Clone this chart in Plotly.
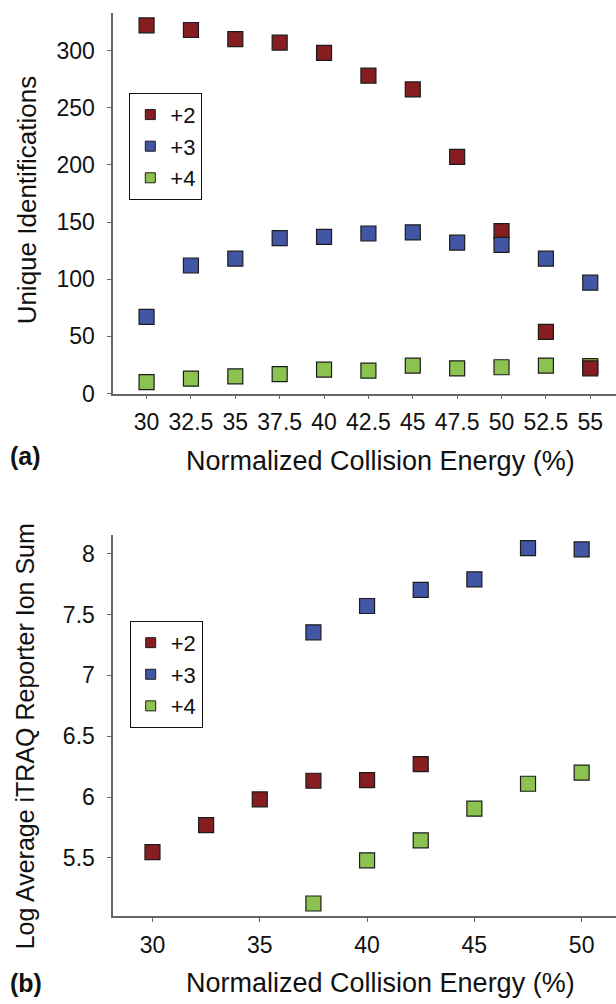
import plotly.graph_objects as go

W, H = 616, 1004

# ---- Panel (a) data ----
energy_a = [30, 32.5, 35, 37.5, 40, 42.5, 45, 47.5, 50, 52.5, 55]
ids_p2 = [322, 318, 310, 307, 298, 278, 266, 207, 142, 54, 22]
ids_p3 = [67, 112, 118, 136, 137, 140, 141, 132, 130, 118, 97]
ids_p4 = [10, 13, 15, 17, 21, 20, 24.5, 22, 23, 24.5, 24]
ticks_a_x = [30, 32.5, 35, 37.5, 40, 42.5, 45, 47.5, 50, 52.5, 55]
ticks_a_y = [0, 50, 100, 150, 200, 250, 300]

# ---- Panel (b) data ----
energy_b_p2 = [30, 32.5, 35, 37.5, 40, 42.5]
sum_p2 = [5.547, 5.769, 5.980, 6.134, 6.139, 6.271]
energy_b_p3 = [37.5, 40, 42.5, 45, 47.5, 50]
sum_p3 = [7.354, 7.570, 7.703, 7.789, 8.046, 8.035]
energy_b_p4 = [37.5, 40, 42.5, 45, 47.5, 50]
sum_p4 = [5.125, 5.480, 5.644, 5.904, 6.109, 6.201]
ticks_b_x = [30, 35, 40, 45, 50]
ticks_b_y = [5.5, 6, 6.5, 7, 7.5, 8]

series_names = ["+2", "+3", "+4"]
colors = {"+2": "#861d21", "+3": "#4157a6", "+4": "#8cc350"}

FONT = "Liberation Sans, Arial, Helvetica, sans-serif"
EDGE = "#1c1c1c"
AXC = "#666666"

fig = go.Figure()

def pts(x, y, name, xa, ya):
    fig.add_trace(go.Scatter(
        x=x, y=y, mode="markers", name=name, showlegend=False,
        xaxis=xa, yaxis=ya, cliponaxis=False,
        marker=dict(symbol="square", size=15, color=colors[name],
                    line=dict(color=EDGE, width=1.2)),
        hoverinfo="x+y"))

# draw order: +4, +2, +3 (blue sits on top of red at 50, red on top of green at 55)
pts(energy_a, ids_p4, "+4", "x", "y")
pts(energy_a, ids_p2, "+2", "x", "y")
pts(energy_a, ids_p3, "+3", "x", "y")
pts(energy_b_p4, sum_p4, "+4", "x2", "y2")
pts(energy_b_p2, sum_p2, "+2", "x2", "y2")
pts(energy_b_p3, sum_p3, "+3", "x2", "y2")

# legend entries
for lg, xa, ya in [("legend", "x", "y"), ("legend2", "x2", "y2")]:
    for n in series_names:
        fig.add_trace(go.Scatter(
            x=[None], y=[None], mode="markers", name=n, legend=lg,
            xaxis=xa, yaxis=ya,
            marker=dict(symbol="square", size=10, color=colors[n],
                        line=dict(color=EDGE, width=1))))

def px_x(p):
    return p / W

def px_y(p):
    return (H - p) / H

axis_common = dict(
    showgrid=False, zeroline=False, showline=True, linecolor=AXC, linewidth=1.5,
    ticks="outside", ticklen=4, tickcolor=AXC, tickwidth=1,
    tickfont=dict(family=FONT, size=23, color="#111111"),
)

fig.update_layout(
    width=W, height=H,
    margin=dict(l=0, r=0, t=0, b=0),
    paper_bgcolor="white", plot_bgcolor="white",
    font=dict(family=FONT, color="#111111"),
    xaxis=dict(domain=[px_x(113.2), 1], anchor="y", range=[28.12, 56.45],
               tickvals=ticks_a_x, ticktext=[f"{v:g}" for v in ticks_a_x],
               ticklabelstandoff=3, **axis_common),
    yaxis=dict(domain=[px_y(398.7), px_y(13)], anchor="x", range=[0, 333],
               tickvals=ticks_a_y, ticklabelstandoff=8, **axis_common),
    xaxis2=dict(domain=[px_x(113.2), 1], anchor="y2", range=[28.17, 51.6],
                tickvals=ticks_b_x, ticklabelstandoff=3, **axis_common),
    yaxis2=dict(domain=[px_y(928.3), px_y(541.7)], anchor="x2", range=[5.02, 8.156],
                tickvals=ticks_b_y, ticktext=[f"{v:g}" for v in ticks_b_y],
                ticklabelstandoff=8, **axis_common),
    legend=dict(x=px_x(129.3), y=px_y(94), xanchor="left", yanchor="top",
                bordercolor="#111111", borderwidth=1, bgcolor="white",
                font=dict(family=FONT, size=22, color="#111111"),
                itemclick=False, itemdoubleclick=False),
    legend2=dict(x=px_x(129.7), y=px_y(629), xanchor="left", yanchor="top",
                 bordercolor="#111111", borderwidth=1, bgcolor="white",
                 font=dict(family=FONT, size=22, color="#111111"),
                 itemclick=False, itemdoubleclick=False),
    showlegend=True,
)

def ann(text, x, y, size=26, angle=0, bold=False):
    fig.add_annotation(
        text=f"<b>{text}</b>" if bold else text,
        x=px_x(x), y=px_y(y), xref="paper", yref="paper",
        xanchor="center", yanchor="middle", showarrow=False, textangle=angle,
        font=dict(family=FONT, size=size, color="#111111"))

ann("Unique Identifications", 27, 203, size=26, angle=-90)
ann("Normalized Collision Energy (%)", 380, 467, size=27)
ann("(a)", 25, 462, size=25, bold=True)
ann("Log Average iTRAQ Reporter Ion Sum", 25, 746, size=25, angle=-90)
ann("Normalized Collision Energy (%)", 380, 996, size=27)
ann("(b)", 26, 996, size=25, bold=True)

fig.write_html("out.html")
